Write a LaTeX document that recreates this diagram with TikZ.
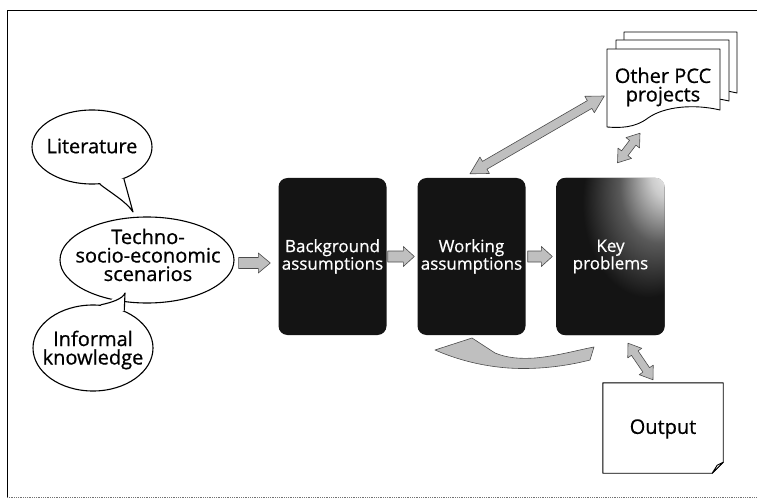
\documentclass[tikz,border=0pt]{standalone}
\usepackage{fontspec}
\setmainfont{Open Sans}[FakeBold=0.7]
\usetikzlibrary{shapes.geometric,calc}
\pgfdeclareradialshading{keyshine}{\pgfpoint{30bp}{30bp}}{color(0bp)=(white); color(8bp)=(black!20); color(18bp)=(black!65); color(30bp)=(black!92); color(70bp)=(black!92)}
\tikzset{
 arrowfill/.style={fill=gray!50, draw=black!70, line width=0.6pt, line join=round},
 bubble/.style={ellipse, draw, line width=1.1pt, fill=white, inner sep=0pt},
 darkbox/.style={rectangle, rounded corners=9pt, fill=black!92, minimum width=108pt, minimum height=157pt, inner sep=0pt},
 boxtext/.style={text=white, align=center, font=\fontsize{17}{17.5}\selectfont, inner sep=0pt},
 pagesheet/.style={draw, line width=0.9pt, fill=white, line join=round},
 lbl/.style={align=center, font=\fontsize{20}{18.5}\selectfont, inner sep=0pt},
 tailline/.style={line width=1.1pt, line join=round},
}
\newcommand\blkarrow[5]{%
 \coordinate (ba-s) at (#1); \coordinate (ba-t) at (#2);
 \coordinate (ba-h) at ($(ba-t)!#5!(ba-s)$);
 \filldraw[arrowfill] ($(ba-s)!#3!90:(ba-t)$) -- ($(ba-h)!#3!-90:(ba-s)$) -- ($(ba-h)!#4!-90:(ba-s)$) -- (ba-t) -- ($(ba-h)!#4!90:(ba-s)$) -- ($(ba-h)!#3!90:(ba-s)$) -- ($(ba-s)!#3!-90:(ba-t)$) -- cycle;}
\newcommand\dblarrow[5]{%
 \coordinate (da-s) at (#1); \coordinate (da-t) at (#2);
 \coordinate (da-h) at ($(da-t)!#5!(da-s)$);
 \coordinate (da-g) at ($(da-s)!#5!(da-t)$);
 \filldraw[arrowfill] (da-s) -- ($(da-g)!#4!90:(da-t)$) -- ($(da-g)!#3!90:(da-t)$) -- ($(da-h)!#3!-90:(da-s)$) -- ($(da-h)!#4!-90:(da-s)$) -- (da-t) -- ($(da-h)!#4!90:(da-s)$) -- ($(da-h)!#3!90:(da-s)$) -- ($(da-g)!#3!-90:(da-t)$) -- ($(da-g)!#4!-90:(da-t)$) -- cycle;}
\begin{document}
\begin{tikzpicture}[x=1pt,y=-1pt]
\useasboundingbox (0,0) rectangle (758,500);
% frame
\draw[line width=1pt] (7,497) -- (7,11) -- (757,11);
\draw[black!55, line width=0.8pt, densely dotted] (7,497) -- (757,497);

% bubbles
\node[bubble, minimum width=120pt, minimum height=74pt] (lit) at (92,147) {};
\node[bubble, minimum width=120pt, minimum height=86pt] (inf) at (93,348) {};
\node[bubble, minimum width=174pt, minimum height=86pt] (tse) at (147,260) {};

% tails
\coordinate (littip) at (133,212);
\fill[white] (lit.-78) -- (littip) -- (lit.-45) -- ($(lit.center)!0.8!(lit.-62)$) -- cycle;
\draw[tailline] (lit.-78) .. controls ($(lit.-78)+(10,8)$) and ($(littip)+(-6,-10)$) .. (littip) -- (lit.-45);
\coordinate (inftip) at (125,293);
\fill[white] (inf.80) -- (inftip) -- (inf.50) -- ($(inf.center)!0.8!(inf.65)$) -- cycle;
\draw[tailline] (inf.80) .. controls ($(inf.80)+(10,-2)$) and ($(inftip)+(-2,6)$) .. (inftip) -- (inf.50);

\node[lbl] at ($(lit.center)+(0,-1)$) {Literature};
\node[lbl] at ($(inf.center)+(0,2)$) {Informal\\knowledge};
\node[lbl] at ($(tse.center)+(1,-5)$) {Techno-\\socio-economic\\scenarios};

% dark boxes
\node[darkbox] (bg) at (332.5,256.5) {};
\node[darkbox] (wk) at (471.5,256.5) {};
\node[darkbox] (key) at (610.5,256.5) {};
\shade[shading=keyshine, rounded corners=9pt] (key.south west) rectangle (key.north east);
\node[boxtext] at (bg.center) {Background\\assumptions};
\node[boxtext] at (wk.center) {Working\\assumptions};
\node[boxtext] at (key.center) {Key\\problems};

% other PCC projects
\foreach \s in {17,9,0} {
 \draw[pagesheet, shift={(\s,-\s)}] (607,49) -- (720,49) -- (720,110) .. controls (695,104) and (665,106) .. (648,118) .. controls (635,128) and (620,128) .. (607,127) -- cycle;
}
\node[lbl, minimum width=113pt, minimum height=78pt] (pcc) at (663,87) {Other PCC\\projects};

% output
\node[minimum width=120pt, minimum height=90pt, inner sep=0pt] (out) at (663,428) {};
\draw[pagesheet] (out.north west) -- (out.north east) -- ($(out.south east)+(0,-11)$) -- ($(out.south east)+(-11,0)$) -- (out.south west) -- cycle;
\draw[pagesheet] ($(out.south east)+(-11,0)$) -- ($(out.south east)+(0,-11)$) -- ($(out.south east)+(-6,-8)$) -- cycle;
\node[lbl] at ($(out.center)+(0,1)$) {Output};

% straight block arrows
\blkarrow{$(tse.east)+(4,3)$}{$(bg.west)+(-8,6.5)$}{5.5pt}{10pt}{12pt}
\blkarrow{$(bg.east)+(1,0)$}{$(wk.west)+(-3,0)$}{5.5pt}{10pt}{11pt}
\blkarrow{$(wk.east)+(2,0)$}{$(key.west)+(-4,0)$}{5.5pt}{10pt}{11pt}

% double arrows
\dblarrow{$(wk.north)+(-1.5,-4)$}{$(pcc.west)+(-2,9)$}{4.5pt}{9.5pt}{17pt}
\dblarrow{$(key.north)+(7,-15)$}{$(pcc.south)+(-23,7)$}{4pt}{8.5pt}{12pt}
\dblarrow{$(key.south)+(17.5,8)$}{$(out.north)+(-10,-3)$}{4pt}{8.5pt}{12pt}

% feedback arrow
\filldraw[arrowfill] (435,350) -- (472,338) -- (495,353) .. controls (507,358) and (520,359) .. (535,358) .. controls (557,356) and (578,350) .. (594,347) -- (590,360) .. controls (567,366) and (537,370) .. (508,368) .. controls (482,366) and (458,360) .. (435,350) -- cycle;
\end{tikzpicture}
\end{document}
